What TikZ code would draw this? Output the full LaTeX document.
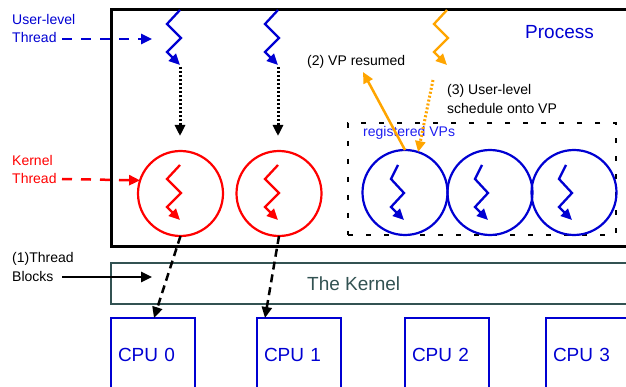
\documentclass[tikz,border=0pt]{standalone}
\usepackage{fontspec}
\setmainfont{Liberation Sans}
\usetikzlibrary{arrows.meta}
\definecolor{cblue}{RGB}{0,0,210}
\definecolor{lblue}{RGB}{30,30,240}
\definecolor{corange}{RGB}{255,165,0}
\definecolor{cslate}{RGB}{50,82,82}
\begin{document}
\begin{tikzpicture}[x=1pt,y=-1pt,
  tip/.style={-{Triangle[length=11pt,width=10pt]}},
  fsmall/.style={font=\fontsize{14}{18.5}\selectfont},
  fbig/.style={font=\fontsize{19}{23}\selectfont},
  lbl/.style={fsmall, inner sep=0pt, anchor=west, align=left},
  ring/.style={circle, line width=2.2pt, minimum size=85pt, inner sep=0pt, outer sep=0pt},
  cpubox/.style={draw=cblue, line width=2pt, text=cblue, fbig, anchor=north west,
    minimum width=84pt, minimum height=74pt, text width=70pt, inner xsep=7pt,
    inner ysep=0pt, outer sep=0pt, align=left},
  zz/.pic={\draw[line width=2.3pt, -{Triangle[length=11pt,width=10pt]}]
    (0,0) -- (-13,14) -- (1,28) -- (-13,42) -- (0,55);},
  zzv/.pic={\draw[line width=2.3pt, -{Triangle[length=11pt,width=10pt]}]
    (-6,0) -- (-13,14) -- (0,28) -- (-13,42) -- (0,55);},
  dashblue/.style={draw=cblue, line width=2.5pt, dash pattern=on 10pt off 9pt, tip},
  dashred/.style={draw=red, line width=2.5pt, dash pattern=on 10pt off 9pt, tip},
  dashblk/.style={draw=black, line width=2.5pt, dash pattern=on 8pt off 5pt, tip},
  dotblk/.style={draw=black, line width=3pt, dash pattern=on 2pt off 2pt, tip},
  dotorange/.style={draw=corange, line width=3pt, dash pattern=on 2pt off 2pt, tip},
  solorange/.style={draw=corange, line width=2.5pt, tip},
  solblk/.style={draw=black, line width=2.5pt, tip}
]
\clip (0,0) rectangle (626,387);

% Process box
\node[draw=black, line width=3pt, anchor=north west, minimum width=540pt,
  minimum height=237pt, inner sep=0pt, outer sep=0pt] (proc) at (111,10) {};
\node[fbig, text=cblue, inner sep=0pt, anchor=west] (proctxt) at (525,32) {Process};

% Kernel box
\node[draw=cslate, line width=2pt, anchor=north west, minimum width=540pt,
  minimum height=41pt, inner sep=0pt, outer sep=0pt] (kern) at (111,263) {};
\node[fbig, text=cslate, inner sep=0pt, anchor=west] (kerntxt) at (307,284) {The Kernel};

% CPUs
\node[cpubox] (cpu0) at (111,318) {CPU 0};
\node[cpubox] (cpu1) at (257,318) {CPU 1};
\node[cpubox] (cpu2) at (405,318) {CPU 2};
\node[cpubox] (cpu3) at (546,318) {CPU 3};

% registered VPs box
\node[draw=black, line width=2.5pt, dash pattern=on 5pt off 13pt, anchor=north west,
  minimum width=268pt, minimum height=112pt, inner sep=0pt, outer sep=0pt] (vpbox) at (348,123) {};
\node[fsmall, text=lblue, inner sep=0pt, anchor=west] (vptxt) at (363,133) {registered VPs};

% kernel threads
\node[ring, draw=red] (k1) at (180.5,193.5) {};
\node[ring, draw=red] (k2) at (279,193.5) {};
\pic[color=red] at (180,165) {zz};
\pic[color=red] at (278,165) {zz};

% VPs
\node[ring, draw=cblue] (vp1) at (405,192.5) {};
\node[ring, draw=cblue] (vp2) at (490,192.5) {};
\node[ring, draw=cblue] (vp3) at (574,192.5) {};
\pic[color=cblue] at (404,165) {zzv};
\pic[color=cblue] at (488,165) {zzv};
\pic[color=cblue] at (572,165) {zzv};

% user-level threads
\pic[color=cblue] at (180,10) {zz};
\pic[color=cblue] at (278,10) {zz};
\pic[color=corange] at (447,10) {zz};

% labels
\node[lbl, text=cblue] (ult) at (12,28.5) {User-level\\Thread};
\node[lbl, text=red] (kt) at (12,169.5) {Kernel\\Thread};
\node[lbl, text=black] (tb) at (12,267) {(1)Thread\\Blocks};
\node[lbl, text=black] (vpr) at (307,62) {(2) VP resumed};
\node[lbl, text=black] (uls) at (447,99) {(3) User-level\\schedule onto VP};

% coordinates
\coordinate (ultA) at (62,39);
\coordinate (ultB) at (152,39);
\coordinate (ktA) at (62,179);
\coordinate (tbA) at (62,277);
\coordinate (tbB) at (152,277);
\coordinate (u1a) at (180,67);
\coordinate (u1b) at (180,136);
\coordinate (u2a) at (278,67);
\coordinate (u2b) at (278,136);
\coordinate (c1top) at (265,318);
\coordinate (c0top) at (154,318);
\coordinate (vprB) at (363,72);
\coordinate (ulsA) at (433,80);

% connectors
\draw[dashblue] (ultA) -- (ultB);
\draw[dashred] (ktA) -- (k1.162);
\draw[solblk] (tbA) -- (tbB);
\draw[dotblk] (u1a) -- (u1b);
\draw[dotblk] (u2a) -- (u2b);
\draw[dashblk] (k1.south) -- (c0top);
\draw[dashblk] (k2.south) -- (c1top);
\draw[solorange] (vp1.north) -- (vprB);
\draw[dotorange] (ulsA) -- (vp1.72);
\end{tikzpicture}
\end{document}
